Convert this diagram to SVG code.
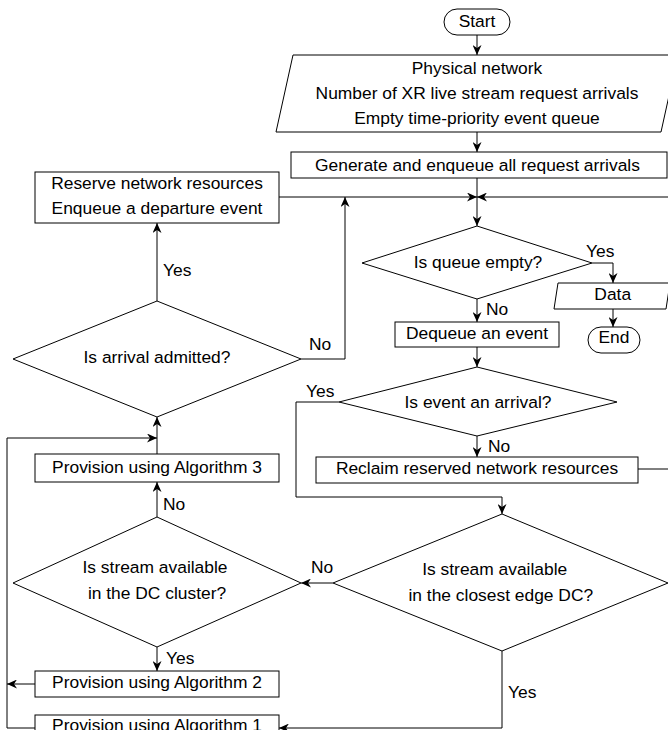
<svg xmlns="http://www.w3.org/2000/svg" width="668" height="730" viewBox="0 0 668 730">
<style>
.s{fill:#fff;stroke:#000;stroke-width:1}
.c{fill:none;stroke:#000;stroke-width:1}
text{font-family:"Liberation Sans",Arial,Helvetica,sans-serif;font-size:17.4px;fill:#000}
.m{text-anchor:middle}
</style>
<defs>
<marker id="a" markerUnits="userSpaceOnUse" markerWidth="11" markerHeight="9" refX="10" refY="4.5" orient="auto" viewBox="0 0 11 9">
<path d="M0,0 L10,4.5 L0,9 L3,4.5 Z" fill="#000"/>
</marker>
</defs>
<rect width="668" height="730" fill="#fff"/>
<g id="connectors" class="c">
<path class="c" d="M477,35 L477,55" marker-end="url(#a)"/>
<path class="c" d="M477,132 L477,152" marker-end="url(#a)"/>
<path class="c" d="M477,178 L477,226" marker-end="url(#a)"/>
<path class="c" d="M279,197 L477,197" marker-end="url(#a)"/>
<path class="c" d="M638,469 L670,469 L670,197 L477,197" marker-end="url(#a)"/>
<path class="c" d="M301,359 L345,359 L345,197" marker-end="url(#a)"/>
<path class="c" d="M157,301 L157,223" marker-end="url(#a)"/>
<path class="c" d="M592,263 L613,263 L613,283" marker-end="url(#a)"/>
<path class="c" d="M613,309 L613,327" marker-end="url(#a)"/>
<path class="c" d="M477,299 L477,322" marker-end="url(#a)"/>
<path class="c" d="M477,347 L477,367" marker-end="url(#a)"/>
<path class="c" d="M477,436 L477,457" marker-end="url(#a)"/>
<path class="c" d="M339,402 L296,402 L296,497 L502,497 L502,514" marker-end="url(#a)"/>
<path class="c" d="M333,583 L301,583" marker-end="url(#a)"/>
<path class="c" d="M502,651 L502,728 L279,728" marker-end="url(#a)"/>
<path class="c" d="M157,517 L157,482" marker-end="url(#a)"/>
<path class="c" d="M157,454 L157,417" marker-end="url(#a)"/>
<path class="c" d="M157,647 L157,671" marker-end="url(#a)"/>
<path class="c" d="M35,684 L7,684" marker-end="url(#a)"/>
<path class="c" d="M35,728 L7,728 L7,438 L157,438" marker-end="url(#a)"/>
</g>
<g id="labels">
<text x="163" y="276">Yes</text>
<text x="309" y="350">No</text>
<text x="306" y="396.5">Yes</text>
<text x="586" y="257.3">Yes</text>
<text x="486" y="315">No</text>
<text x="488" y="451.7">No</text>
<text x="163" y="510">No</text>
<text x="311" y="573.3">No</text>
<text x="508" y="697.7">Yes</text>
<text x="166" y="664">Yes</text>
</g>
<g id="start">
<rect class="s" x="444" y="9" width="66" height="26" rx="13"/>
<text class="m" x="477" y="26.7">Start</text>
</g>
<g id="input">
<polygon class="s" points="293,55 678,55 661,132 276,132"/>
<text class="m" x="477" y="73.5">Physical network</text>
<text class="m" x="477" y="98.5">Number of XR live stream request arrivals</text>
<text class="m" x="477" y="123.5">Empty time-priority event queue</text>
</g>
<g id="generate">
<rect class="s" x="291" y="152" width="376" height="26"/>
<text class="m" x="477.5" y="171">Generate and enqueue all request arrivals</text>
</g>
<g id="reserve">
<rect class="s" x="35" y="172" width="244" height="51"/>
<text class="m" x="157" y="189.3">Reserve network resources</text>
<text class="m" x="157" y="214">Enqueue a departure event</text>
</g>
<g id="queueEmpty">
<polygon class="s" points="477,226 592,263 477,299 362,263"/>
<text class="m" x="478" y="268.3">Is queue empty?</text>
</g>
<g id="data">
<polygon class="s" points="558,283 670,283 666,309 554,309"/>
<text class="m" x="612.7" y="300">Data</text>
</g>
<g id="end">
<rect class="s" x="588" y="327" width="52" height="26" rx="13"/>
<text class="m" x="614" y="343.3">End</text>
</g>
<g id="dequeue">
<rect class="s" x="395" y="322" width="164" height="25"/>
<text class="m" x="477" y="338.5">Dequeue an event</text>
</g>
<g id="isArrival">
<polygon class="s" points="477,367 617,402 477,436 339,402"/>
<text class="m" x="478" y="407.7">Is event an arrival?</text>
</g>
<g id="reclaim">
<rect class="s" x="316" y="457" width="322" height="26"/>
<text class="m" x="477" y="474">Reclaim reserved network resources</text>
</g>
<g id="admitted">
<polygon class="s" points="157,301 301,359 157,417 13,359"/>
<text class="m" x="157" y="363.3">Is arrival admitted?</text>
</g>
<g id="alg3">
<rect class="s" x="35" y="454" width="244" height="28"/>
<text class="m" x="157" y="473.3">Provision using Algorithm 3</text>
</g>
<g id="dcCluster">
<polygon class="s" points="157,517 301,583 157,647 13,583"/>
<text class="m" x="155" y="573.3">Is stream available</text>
<text class="m" x="157" y="599.3">in the DC cluster?</text>
</g>
<g id="edgeDC">
<polygon class="s" points="502,514 668,583 502,651 333,583"/>
<text class="m" x="494.7" y="574.5">Is stream available</text>
<text class="m" x="500.8" y="600.7">in the closest edge DC?</text>
</g>
<g id="alg2">
<rect class="s" x="35" y="671" width="244" height="26"/>
<text class="m" x="157" y="688.3">Provision using Algorithm 2</text>
</g>
<g id="alg1">
<rect class="s" x="35" y="715" width="244" height="26"/>
<text class="m" x="157" y="731">Provision using Algorithm 1</text>
</g>
</svg>
